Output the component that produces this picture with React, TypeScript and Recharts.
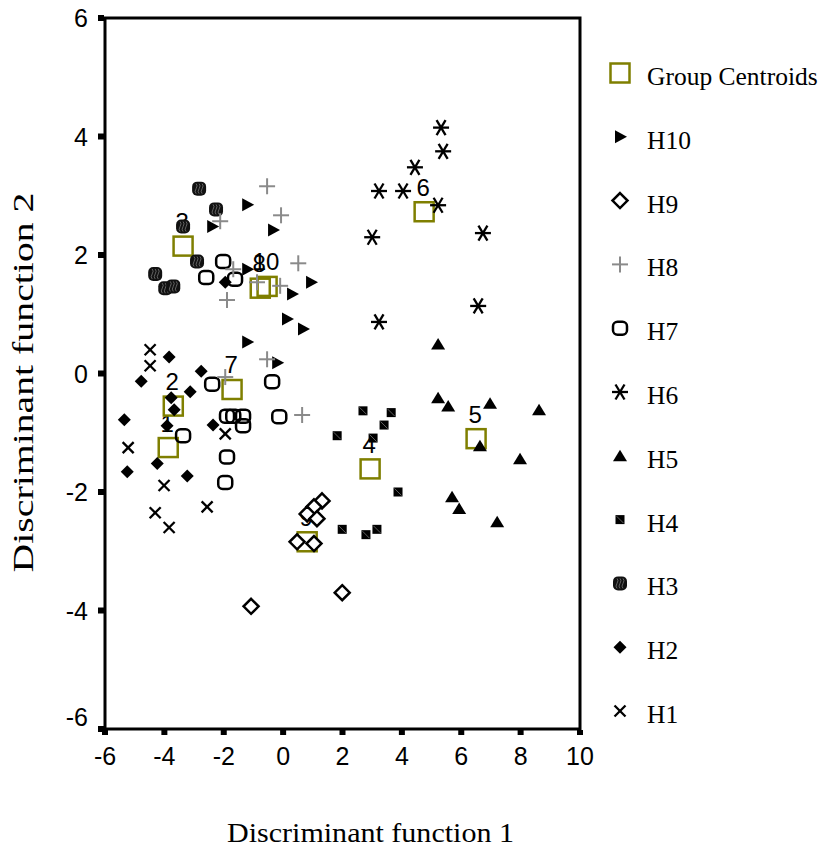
import { Legend, ReferenceArea, Scatter, ScatterChart, XAxis, YAxis } from "recharts";

const xTicks = [-6, -4, -2, 0, 2, 4, 6, 8, 10];
const yTicks = [-6, -4, -2, 0, 2, 4, 6];

const centroidLabels = ["1", "2", "3", "4", "5", "6", "7", "8", "9", "10"];
const centroidX = [-3.87, -3.7, -3.37, 2.93, 6.5, 4.75, -1.72, -0.77, 0.81, -0.54];
const centroidY = [-1.25, -0.55, 2.15, -1.61, -1.1, 2.73, -0.27, 1.44, -2.84, 1.47];

const h10 = [
  [-1.21, 2.85], [-2.39, 2.48], [-0.34, 2.42], [-1.21, 1.76], [0.94, 1.54],
  [0.3, 1.34], [0.13, 0.92], [0.67, 0.75], [-1.21, 0.53], [-0.2, 0.18],
];
const h9 = [
  [1.31, -2.15], [1.04, -2.25], [0.81, -2.37], [1.14, -2.45],
  [0.47, -2.84], [1.04, -2.87], [1.99, -3.7], [-1.08, -3.93],
];
const h8 = [
  [-0.54, 3.16], [-2.12, 2.57], [-0.07, 2.67], [0.51, 1.86], [-1.89, 1.24], [-1.68, 1.76],
  [-0.88, 1.54], [-0.1, 1.48], [-0.54, 0.24], [-1.95, -0.06], [0.64, -0.7],
];
const h7 = [
  [-2.02, 1.89], [-2.59, 1.62], [-1.62, 1.59], [-2.39, -0.18], [-0.37, -0.14],
  [-1.89, -0.72], [-1.68, -0.72], [-1.35, -0.72], [-1.35, -0.88], [-0.13, -0.73],
  [-3.37, -1.05], [-1.89, -1.41], [-1.95, -1.84],
];
const h6 = [
  [5.32, 4.15], [5.39, 3.75], [4.44, 3.48], [3.23, 3.08], [4.04, 3.08],
  [5.22, 2.84], [3.0, 2.3], [6.73, 2.37], [6.57, 1.14], [3.23, 0.87],
];
const h5 = [
  [5.22, 0.5], [5.22, -0.41], [5.56, -0.55], [6.97, -0.5], [8.62, -0.61],
  [6.63, -1.22], [7.98, -1.44], [5.69, -2.08], [5.93, -2.28], [7.21, -2.5],
];
const h4 = [
  [2.69, -0.63], [3.64, -0.66], [3.4, -0.87], [1.82, -1.05], [3.03, -1.09],
  [3.87, -2.0], [1.99, -2.63], [2.79, -2.72], [3.16, -2.63],
];
const h3 = [
  [-2.83, 3.12], [-2.26, 2.77], [-3.37, 2.48], [-2.9, 1.89],
  [-4.31, 1.68], [-3.97, 1.44], [-3.7, 1.47],
];
const h2 = [
  [-3.84, 0.28], [-4.78, -0.13], [-2.76, 0.04], [-3.13, -0.31], [-3.77, -0.41],
  [-3.67, -0.61], [-5.35, -0.78], [-3.91, -0.88], [-2.36, -0.87], [-4.24, -1.52],
  [-5.25, -1.66], [-3.23, -1.73], [-1.95, 1.54],
];
const h1 = [
  [-4.48, 0.4], [-4.48, 0.13], [-1.95, -1.02], [-5.22, -1.25],
  [-4.01, -1.89], [-2.56, -2.25], [-4.31, -2.35], [-3.84, -2.6],
];

const legendNames = ["Group Centroids", "H10", "H9", "H8", "H7", "H6", "H5", "H4", "H3", "H2", "H1"];
const legendKinds = ["centroid", "h10", "h9", "h8", "h7", "h6", "h5", "h4", "h3", "h2", "h1"];

const OLIVE = "#7f7f00";
const SANS = "'Liberation Sans', Arial, sans-serif";
const SERIF = "'Liberation Serif', 'Times New Roman', serif";

const toPoints = (arr: number[][]) => arr.map(([x, y]) => ({ x, y }));
const centroids = centroidLabels.map((label, i) => ({ x: centroidX[i], y: centroidY[i], label }));

const groups = [
  { name: "H1", kind: "h1", data: toPoints(h1) },
  { name: "H2", kind: "h2", data: toPoints(h2) },
  { name: "H3", kind: "h3", data: toPoints(h3) },
  { name: "H4", kind: "h4", data: toPoints(h4) },
  { name: "H5", kind: "h5", data: toPoints(h5) },
  { name: "H6", kind: "h6", data: toPoints(h6) },
  { name: "H7", kind: "h7", data: toPoints(h7) },
  { name: "H9", kind: "h9", data: toPoints(h9) },
  { name: "H10", kind: "h10", data: toPoints(h10) },
  { name: "H8", kind: "h8", data: toPoints(h8) },
];

function Marker({ kind, cx, cy }: { kind: string; cx: number; cy: number }) {
  switch (kind) {
    case "centroid":
      return <rect x={cx - 9.5} y={cy - 9.5} width={19} height={19} fill="none" stroke={OLIVE} strokeWidth={2.5} />;
    case "h10":
      return <polygon points={`${cx - 5},${cy - 6.5} ${cx + 7},${cy} ${cx - 5},${cy + 6.5}`} fill="#000" />;
    case "h9":
      return (
        <polygon
          points={`${cx},${cy - 7.5} ${cx + 7.5},${cy} ${cx},${cy + 7.5} ${cx - 7.5},${cy}`}
          fill="#fff"
          stroke="#000"
          strokeWidth={2.5}
        />
      );
    case "h8":
      return (
        <g stroke="#8a8a8a" strokeWidth={2}>
          <line x1={cx - 8} y1={cy} x2={cx + 8} y2={cy} />
          <line x1={cx} y1={cy - 8} x2={cx} y2={cy + 8} />
        </g>
      );
    case "h7":
      return <rect x={cx - 7} y={cy - 6.5} width={14} height={13} rx={4.5} fill="none" stroke="#000" strokeWidth={2.5} />;
    case "h6":
      return (
        <g stroke="#000" strokeWidth={2.3}>
          <line x1={cx - 8} y1={cy} x2={cx + 8} y2={cy} />
          <line x1={cx - 4.5} y1={cy - 7.5} x2={cx + 4.5} y2={cy + 7.5} />
          <line x1={cx + 4.5} y1={cy - 7.5} x2={cx - 4.5} y2={cy + 7.5} />
        </g>
      );
    case "h5":
      return <polygon points={`${cx - 7},${cy + 5.5} ${cx},${cy - 6} ${cx + 7},${cy + 5.5}`} fill="#000" />;
    case "h4":
      return (
        <g>
          <rect x={cx - 4.5} y={cy - 4.5} width={9} height={9} fill="#000" />
          <line x1={cx - 3.5} y1={cy - 3.5} x2={cx + 3.5} y2={cy + 3.5} stroke="#888" strokeWidth={0.7} />
        </g>
      );
    case "h3":
      return (
        <g>
          <rect x={cx - 7} y={cy - 7} width={14} height={14} rx={5} fill="#111" />
          <path
            d={`M${cx - 3},${cy - 5} q2,2 0,5 q-2,3 0,5 M${cx},${cy - 5} q2,2 0,5 q-2,3 0,5 M${cx + 3},${cy - 5} q2,2 0,5 q-2,3 0,5`}
            fill="none"
            stroke="#777"
            strokeWidth={0.8}
          />
        </g>
      );
    case "h2":
      return <polygon points={`${cx},${cy - 6.5} ${cx + 6.5},${cy} ${cx},${cy + 6.5} ${cx - 6.5},${cy}`} fill="#000" />;
    case "h1":
      return (
        <g stroke="#000" strokeWidth={2.3}>
          <line x1={cx - 5.5} y1={cy - 5.5} x2={cx + 5.5} y2={cy + 5.5} />
          <line x1={cx + 5.5} y1={cy - 5.5} x2={cx - 5.5} y2={cy + 5.5} />
        </g>
      );
    default:
      return null;
  }
}

function CentroidShape(props: any) {
  const { cx, cy, payload } = props;
  return (
    <g>
      <text x={cx - 1} y={cy - 16} textAnchor="middle" fontFamily={SANS} fontSize={24} fill="#000">
        {payload.label}
      </text>
      <Marker kind="centroid" cx={cx} cy={cy} />
    </g>
  );
}

function XTick(props: any) {
  const { x, y, payload } = props;
  return (
    <g>
      <rect x={x - 3} y={y + 1} width={6} height={5} fill="#000" />
      <text x={x} y={y + 36} textAnchor="middle" fontFamily={SANS} fontSize={25} fill="#000">
        {payload.value}
      </text>
    </g>
  );
}

function YTick(props: any) {
  const { x, y, payload } = props;
  const shift = payload.value === -6 ? -12 : 0;
  return (
    <g>
      <rect x={x - 7} y={y - 3} width={6} height={6} fill="#000" />
      <text x={x - 17} y={y + 9 + shift} textAnchor="end" fontFamily={SANS} fontSize={25} fill="#000">
        {payload.value}
      </text>
    </g>
  );
}

function XTitle(props: any) {
  const vb = props.viewBox || { x: 105, y: 729, width: 475 };
  return (
    <text
      x={vb.x + vb.width / 2 + 28}
      y={vb.y + 113}
      textAnchor="middle"
      fontFamily={SERIF}
      fontSize={28}
      textLength={287}
      lengthAdjust="spacingAndGlyphs"
      fill="#000"
    >
      Discriminant function 1
    </text>
  );
}

function YTitle(props: any) {
  const vb = props.viewBox || { x: 0, y: 18, height: 711 };
  const cy = vb.y + vb.height / 2 + 9;
  return (
    <text
      transform={`translate(33, ${cy}) rotate(-90)`}
      textAnchor="middle"
      fontFamily={SERIF}
      fontSize={29}
      textLength={380}
      lengthAdjust="spacingAndGlyphs"
      fill="#000"
    >
      Discriminant function 2
    </text>
  );
}

function LegendBox() {
  return (
    <svg width={226} height={720}>
      {legendNames.map((name, i) => {
        const cy = 33 + i * 63.8;
        return (
          <g key={name}>
            <Marker kind={legendKinds[i]} cx={22} cy={cy} />
            <text x={49} y={cy + 12} fontFamily={SERIF} fontSize={25.5} fill="#000">
              {name}
            </text>
          </g>
        );
      })}
    </svg>
  );
}

export default function App() {
  return (
    <div style={{ position: "absolute", left: 0, top: 0, background: "#fff" }}>
      <ScatterChart width={826} height={852} margin={{ top: 18, right: 246, bottom: 0, left: 0 }}>
        <XAxis
          type="number"
          dataKey="x"
          domain={[-6, 10]}
          ticks={xTicks}
          interval={0}
          axisLine={false}
          tickLine={false}
          tickSize={0}
          tickMargin={0}
          height={123}
          tick={<XTick />}
          allowDataOverflow
          label={{ content: <XTitle /> }}
        />
        <YAxis
          type="number"
          dataKey="y"
          domain={[-6, 6]}
          ticks={yTicks}
          interval={0}
          axisLine={false}
          tickLine={false}
          tickSize={0}
          tickMargin={0}
          width={105}
          tick={<YTick />}
          allowDataOverflow
          label={{ content: <YTitle /> }}
        />
        <ReferenceArea x1={-6} x2={10} y1={-6} y2={6} fill="none" stroke="#000" strokeWidth={3} fillOpacity={0} />
        <Scatter
          name="Group Centroids"
          data={centroids}
          shape={<CentroidShape />}
          isAnimationActive={false}
        />
        {groups.map((g) => (
          <Scatter
            key={g.name}
            name={g.name}
            data={g.data}
            shape={(p: any) => <Marker kind={g.kind} cx={p.cx} cy={p.cy} />}
            isAnimationActive={false}
          />
        ))}
        <Legend
          layout="vertical"
          align="center"
          verticalAlign="middle"
          content={<LegendBox />}
          wrapperStyle={{ left: 598, top: 40, width: 226, height: 720 }}
        />
      </ScatterChart>
    </div>
  );
}
